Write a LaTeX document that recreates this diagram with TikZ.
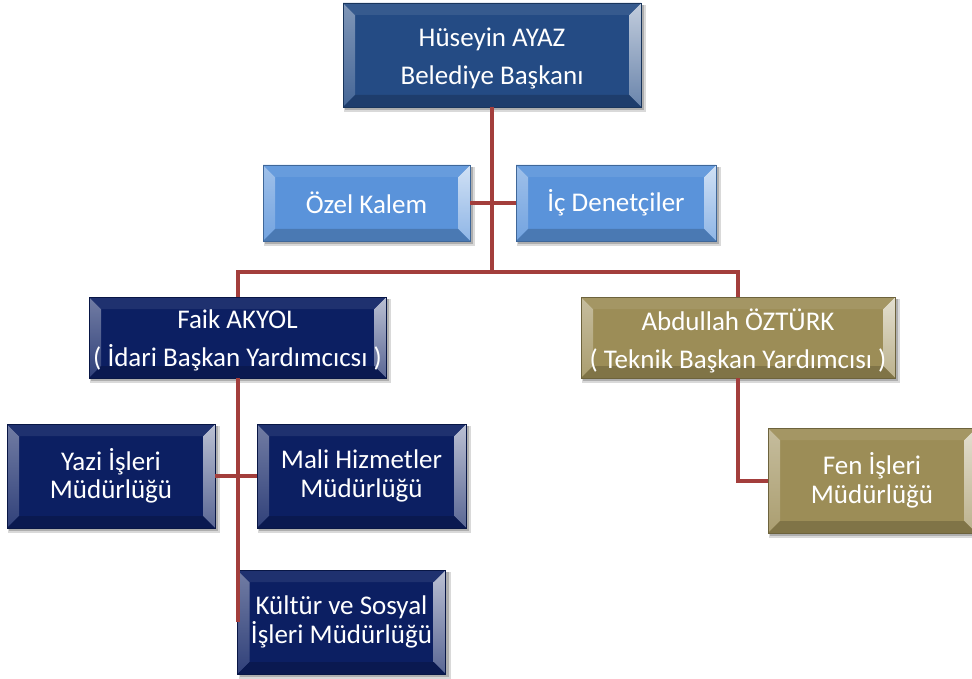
\documentclass[tikz,border=0pt]{standalone}
\usepackage{fontspec}
\setmainfont{Carlito}
\usetikzlibrary{calc}
\definecolor{cTop}{HTML}{244B84}
\definecolor{cLight}{HTML}{5A93DA}
\definecolor{cNavy}{HTML}{0C1F62}
\definecolor{cOlive}{HTML}{9C8D57}
\definecolor{cLine}{HTML}{A33E3C}
\tikzset{
  bev/.style={rectangle, inner sep=0pt, outer sep=0pt, fill=#1, draw=black!30!#1, line width=0.6pt,
    path picture={
      \path[top color=white!42!#1, bottom color=white!15!#1]
        (path picture bounding box.north west) -- ([shift={(12pt,-12pt)}]path picture bounding box.north west)
        -- ([shift={(12pt,12pt)}]path picture bounding box.south west) -- (path picture bounding box.south west) -- cycle;
      \path[top color=white!72!#1, bottom color=white!32!#1]
        (path picture bounding box.north east) -- ([shift={(-12pt,-12pt)}]path picture bounding box.north east)
        -- ([shift={(-12pt,12pt)}]path picture bounding box.south east) -- (path picture bounding box.south east) -- cycle;
      \fill[white!8!#1]
        (path picture bounding box.north west) -- (path picture bounding box.north east)
        -- ([shift={(-12pt,-12pt)}]path picture bounding box.north east) -- ([shift={(12pt,-12pt)}]path picture bounding box.north west) -- cycle;
      \fill[black!18!#1]
        (path picture bounding box.south west) -- (path picture bounding box.south east)
        -- ([shift={(-12pt,12pt)}]path picture bounding box.south east) -- ([shift={(12pt,12pt)}]path picture bounding box.south west) -- cycle;
    }},
  boxtext/.style={text=white, align=center, inner sep=0pt},
  wide/.style={font=\fontsize{27}{38}\selectfont, yshift=-3pt},
  single/.style={font=\fontsize{27}{38}\selectfont},
  tight/.style={font=\fontsize{27}{28.5}\selectfont},
  conn/.style={draw=cLine, line width=4pt},
}
\newcommand\orgbox[8]{%
  \fill[black, opacity=0.15] ({#2-#4/2+1},{#3-#5/2+2}) rectangle ({#2+#4/2+5},{#3+#5/2+5});
  \fill[black, opacity=0.2] ({#2-#4/2+2},{#3-#5/2+2}) rectangle ({#2+#4/2+3},{#3+#5/2+3});
  \node[bev=#6, minimum width=#4pt, minimum height=#5pt] (#1) at (#2,#3) {};
  \node[boxtext, #7] (#1-t) at (#1) {#8};
}
\begin{document}
\begin{tikzpicture}[x=1pt, y=-1pt]
\useasboundingbox (0,0) rectangle (972,679);
\orgbox{top}{492}{55}{298}{104}{cTop}{wide}{Hüseyin AYAZ\\Belediye Başkanı}
\orgbox{ozel}{366.5}{203}{207}{76}{cLight}{single}{Özel Kalem}
\orgbox{ic}{616}{203}{200}{76}{cLight}{single}{İç Denetçiler}
\orgbox{faik}{237.5}{337.5}{297}{81}{cNavy}{wide}{Faik AKYOL\\( İdari Başkan Yardımcıcsı )}
\orgbox{abd}{738}{337.5}{314}{81}{cOlive}{wide}{Abdullah ÖZTÜRK\\( Teknik Başkan Yardımcısı )}
\orgbox{yazi}{111}{476}{208}{104}{cNavy}{tight}{Yazi İşleri\\Müdürlüğü}
\orgbox{mali}{361.5}{476}{209}{104}{cNavy}{tight}{Mali Hizmetler\\Müdürlüğü}
\orgbox{kultur}{341.5}{622}{208}{104}{cNavy}{tight}{Kültür ve Sosyal\\İşleri Müdürlüğü}
\orgbox{fen}{872}{480.5}{208}{105}{cOlive}{tight}{Fen İşleri\\Müdürlüğü}
\coordinate (j) at (492,272);
\draw[conn] (top.south) -- (j);
\draw[conn] (ozel.east) -- (ic.west);
\draw[conn] (faik.north) |- (j) -| (abd.north);
\draw[conn] (faik.south) |- (kultur.west);
\draw[conn] (yazi.east) -- (mali.west);
\draw[conn] (abd.south) |- (fen.west);
\end{tikzpicture}
\end{document}
